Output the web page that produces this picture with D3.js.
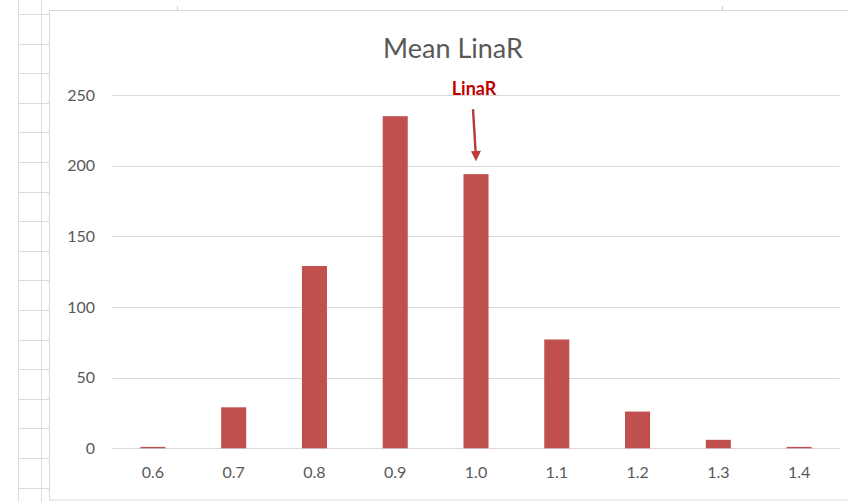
<!DOCTYPE html>
<html>
<head>
<meta charset="utf-8">
<script src="https://cdn.jsdelivr.net/npm/d3@7"></script>
<style>
  html, body { margin: 0; padding: 0; background: #ffffff; }
  svg { display: block; }
  text { font-family: Lato, "Open Sans", "Liberation Sans", sans-serif; }
</style>
</head>
<body>
<svg id="chart" width="848" height="502"></svg>
<script>
// Histogram of mean LinaR values
const categories = ["0.6", "0.7", "0.8", "0.9", "1.0", "1.1", "1.2", "1.3", "1.4"];
const counts = [1, 29, 129, 235, 194, 77, 26, 6, 1];
const yTicks = [0, 50, 100, 150, 200, 250];
const chartTitle = "Mean LinaR";
const markerLabel = "LinaR";
const markerCategory = "1.0";

const svg = d3.select("#chart");

// spreadsheet cells behind the chart object
const sheet = svg.append("g").attr("stroke", "#dcdcdc").attr("stroke-width", 1);
[18.5, 41.5].forEach(x => sheet.append("line").attr("x1", x).attr("x2", x).attr("y1", 0).attr("y2", 502));
for (let y = 14; y < 502; y += 29.6) {
  sheet.append("line").attr("x1", 18).attr("x2", 49).attr("y1", Math.round(y) + 0.5).attr("y2", Math.round(y) + 0.5);
}

// chart object frame
svg.append("rect")
  .attr("x", 49.5).attr("y", 10.5)
  .attr("width", 810).attr("height", 489.5)
  .attr("fill", "#ffffff")
  .attr("stroke", "#d9d9d9");
[177, 722].forEach(x => svg.append("line")
  .attr("x1", x + 0.5).attr("x2", x + 0.5).attr("y1", 6).attr("y2", 11)
  .attr("stroke", "#d0d0d0"));

const x = d3.scaleBand()
  .domain(categories)
  .range([112.5, 839.5])
  .paddingInner(0.69)
  .paddingOuter(0.345);

const y = d3.scaleLinear()
  .domain([0, 250])
  .range([448.3, 95]);

// horizontal gridlines
svg.append("g")
  .selectAll("line")
  .data(yTicks)
  .join("line")
  .attr("x1", 112.5).attr("x2", 839.5)
  .attr("y1", d => Math.round(y(d)) + 0.5)
  .attr("y2", d => Math.round(y(d)) + 0.5)
  .attr("stroke", "#d9d9d9")
  .attr("stroke-width", 1);

// y axis labels
const yAxis = svg.append("g")
  .attr("transform", "translate(95,0)")
  .call(d3.axisLeft(y).tickValues(yTicks).tickSize(0).tickPadding(0));
yAxis.select(".domain").remove();
yAxis.selectAll("text")
  .attr("fill", "#595959")
  .style("font-size", "16px")
  .style("font-family", "Lato, 'Open Sans', sans-serif");

// x axis labels
const xAxis = svg.append("g")
  .attr("transform", "translate(0,467)")
  .call(d3.axisBottom(x).tickSize(0).tickPadding(0));
xAxis.select(".domain").remove();
xAxis.selectAll("text")
  .attr("fill", "#595959")
  .style("font-size", "16px")
  .style("font-family", "Lato, 'Open Sans', sans-serif");

// bars
svg.append("g")
  .selectAll("rect")
  .data(categories.map((c, i) => ({ c, v: counts[i] })))
  .join("rect")
  .attr("x", d => x(d.c))
  .attr("width", x.bandwidth())
  .attr("y", d => y(d.v))
  .attr("height", d => y(0) - y(d.v))
  .attr("fill", "#c0504d");

// title
svg.append("text")
  .attr("x", 453)
  .attr("y", 58)
  .attr("text-anchor", "middle")
  .attr("fill", "#595959")
  .style("font-size", "27px")
  .text(chartTitle);

// annotation arrow pointing at the marked bar
const mi = categories.indexOf(markerCategory);
const mx = x(markerCategory) + x.bandwidth() / 2;
const tipY = y(counts[mi]) - 13;
const arrowColor = "#b83c3c";
svg.append("line")
  .attr("x1", mx - 3).attr("y1", tipY - 52)
  .attr("x2", mx - 0.3).attr("y2", tipY - 8)
  .attr("stroke", arrowColor)
  .attr("stroke-width", 2.4);
svg.append("path")
  .attr("d", `M${mx - 5},${tipY - 10} L${mx + 5},${tipY - 10.5} L${mx},${tipY} Z`)
  .attr("fill", arrowColor);

svg.append("text")
  .attr("x", mx - 2)
  .attr("y", 95)
  .attr("text-anchor", "middle")
  .attr("fill", "#c00000")
  .style("font-size", "18px")
  .style("font-weight", "bold")
  .text(markerLabel);
</script>
</body>
</html>
